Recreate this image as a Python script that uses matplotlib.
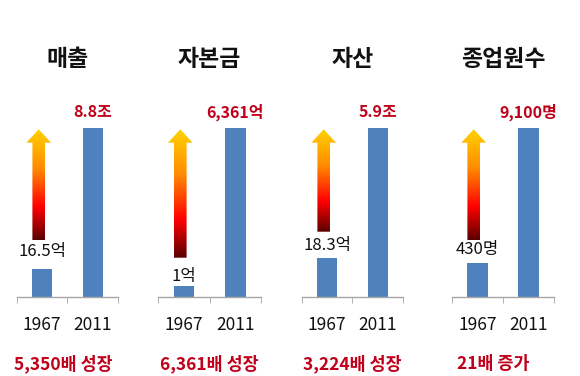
import numpy as np
import matplotlib
matplotlib.use("Agg")
import matplotlib.pyplot as plt
from matplotlib.patches import Polygon
from matplotlib.colors import LinearSegmentedColormap

plt.rcParams['font.family'] = ['Noto Sans CJK KR', 'DejaVu Sans']

# ---- data ----
titles = ['매출', '자본금', '자산', '종업원수']
years = ['1967', '2011']
bar_1967 = [16.6, 6.5, 23.3, 20.1]      # relative bar heights (2011 = 100)
bar_2011 = [100, 100, 100, 100]
labels_1967 = ['16.5억', '1억', '18.3억', '430명']
labels_2011 = ['8.8조', '6,361억', '5.9조', '9,100명']
growth = ['5,350배 성장', '6,361배 성장', '3,224배 성장', '21배 증가']

# ---- layout / style ----
W, H = 580, 376
panel_px = [(16.7, 118.0), (158.3, 261.0), (301.7, 403.0), (451.7, 554.3)]
axis_y_px, top_px = 297, 128
arrow_bottom_px = [240, 257.7, 231.7, 240]
lab1967_off = [12.5, 6.5, 9, 9.5]         # points above bar
growth_x = [0.46, 0.5, 0.5, 0.405]
BAR = '#4F81BD'
RED = '#C0001A'
GREY = '#A6A6A6'

cmap = LinearSegmentedColormap.from_list(
    'arrow', [(0.0, '#5A0000'), (0.3, '#FF0000'), (0.65, '#FF8C00'), (1.0, '#FFD200')])

fig = plt.figure(figsize=(W / 100, H / 100), dpi=100)

for i in range(4):
    x0, x1 = panel_px[i]
    ax = fig.add_axes([x0 / W, (H - axis_y_px) / H, (x1 - x0) / W, (axis_y_px - top_px) / H])
    h_ax = axis_y_px - top_px
    w_ax = x1 - x0

    # gradient arrow (axes coordinates)
    cx = 22.0 / w_ax
    sw = 6.3 / w_ax
    hw = 12.3 / w_ax
    tip = (axis_y_px - 129.3) / h_ax
    hb = (axis_y_px - 142.7) / h_ax
    bot = (axis_y_px - arrow_bottom_px[i]) / h_ax
    verts = [(cx - sw, bot), (cx + sw, bot), (cx + sw, hb), (cx + hw, hb),
             (cx, tip), (cx - hw, hb), (cx - sw, hb)]
    poly = Polygon(verts, closed=True, transform=ax.transAxes, facecolor='none', edgecolor='none')
    ax.add_patch(poly)
    grad = np.linspace(0, 1, 256).reshape(-1, 1)
    im = ax.imshow(grad, cmap=cmap, origin='lower', aspect='auto',
                   extent=(cx - hw, cx + hw, bot, tip), transform=ax.transAxes, zorder=1)
    im.set_clip_path(poly)

    xs = [0, 1]
    vals = [bar_1967[i], bar_2011[i]]
    ax.bar(xs, vals, width=0.4, color=BAR, zorder=2)

    ax.set_xlim(-0.5, 1.5)
    ax.set_ylim(0, 100)
    ax.set_aspect('auto')

    for s in ['top', 'right', 'left']:
        ax.spines[s].set_visible(False)
    ax.spines['bottom'].set_color(GREY)
    ax.spines['bottom'].set_linewidth(1.0)
    ax.set_yticks([])
    ax.set_xticks(xs, years)
    ax.set_xticks([-0.5, 0.5, 1.5], minor=True)
    ax.tick_params(axis='x', which='major', length=0, pad=14, labelsize=12.5, labelcolor='#111111')
    ax.tick_params(axis='x', which='minor', length=4.5, color=GREY, direction='out')
    ax.patch.set_alpha(0)

    ax.annotate(labels_1967[i], (0, bar_1967[i]), xytext=(0, lab1967_off[i]),
                textcoords='offset points', ha='center', va='center',
                fontsize=12, color='#111111', annotation_clip=False)
    ax.annotate(labels_2011[i], (1, bar_2011[i]), xytext=(0, 11.5),
                textcoords='offset points', ha='center', va='center',
                fontsize=11.5, fontweight='bold', color=RED, annotation_clip=False)

    ax.text(0.5, (axis_y_px - 60) / h_ax, titles[i], transform=ax.transAxes,
            ha='center', va='center', fontsize=16.5, fontweight='bold', color='#111111')
    ax.text(growth_x[i], (axis_y_px - 364) / h_ax, growth[i], transform=ax.transAxes,
            ha='center', va='center', fontsize=12.5, fontweight='bold', color=RED)

fig.savefig('out.png', dpi=100, facecolor='white')
